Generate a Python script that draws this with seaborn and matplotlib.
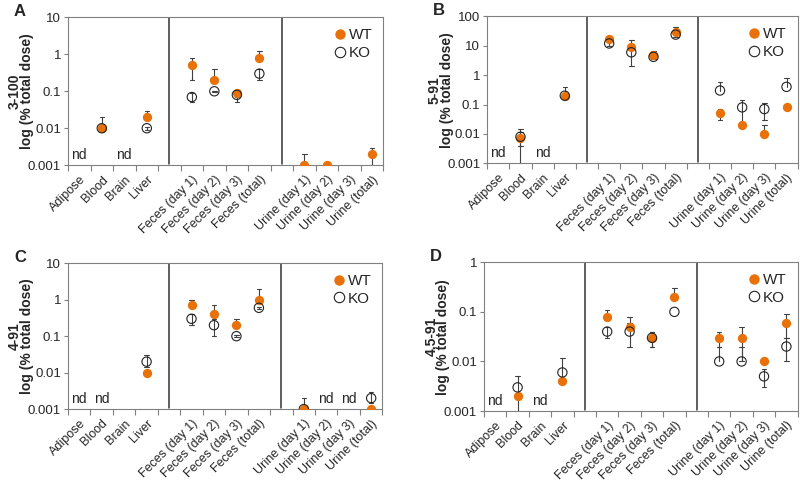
import numpy as np
import pandas as pd
import matplotlib
matplotlib.use("Agg")
import matplotlib.pyplot as plt
from matplotlib.lines import Line2D
from matplotlib import font_manager
import seaborn as sns

nan = np.nan

# category slots (blank slots are the gaps between sample groups)
categories = ["Adipose", "Blood", "Brain", "Liver", " ",
              "Feces (day 1)", "Feces (day 2)", "Feces (day 3)", "Feces (total)", "  ",
              "Urine (day 1)", "Urine (day 2)", "Urine (day 3)", "Urine (total)"]
samples = ["Adipose", "Blood", "Brain", "Liver",
           "Feces (day 1)", "Feces (day 2)", "Feces (day 3)", "Feces (total)",
           "Urine (day 1)", "Urine (day 2)", "Urine (day 3)", "Urine (total)"]

# panel A: 3-100
a_wt = [nan, 0.01, nan, 0.02, 0.5, 0.2, 0.09, 0.8, 0.001, 0.001, nan, 0.002]
a_wt_lo = [nan, nan, nan, 0.02, 0.2, 0.2, 0.07, 0.8, nan, nan, nan, 0.0005]
a_wt_hi = [nan, 0.02, nan, 0.03, 0.8, 0.4, 0.1, 1.2, 0.002, nan, nan, 0.003]
a_ko = [nan, 0.01, nan, 0.01, 0.07, 0.1, 0.08, 0.3, nan, nan, nan, nan]
a_ko_lo = [nan, nan, nan, 0.009, 0.05, 0.095, 0.05, 0.2, nan, nan, nan, nan]
a_ko_hi = [nan, nan, nan, 0.011, 0.09, 0.105, 0.1, 0.4, nan, nan, nan, nan]

# panel B: 5-91
b_wt = [nan, 0.007, nan, 0.2, 17, 9, 5, 30, 0.05, 0.02, 0.01, 0.08]
b_wt_lo = [nan, 0.0001, nan, 0.2, 17, 9, 5, 30, 0.03, nan, nan, nan]
b_wt_hi = [nan, 0.015, nan, 0.4, 21, 16, 6.5, 44, 0.07, nan, 0.02, nan]
b_ko = [nan, 0.008, nan, 0.2, 12, 6, 4.2, 24, 0.3, 0.08, 0.07, 0.4]
b_ko_lo = [nan, 0.004, nan, 0.2, 10, 2, 3.5, 20, 0.3, 0.02, 0.03, 0.4]
b_ko_hi = [nan, 0.012, nan, 0.2, 14, 8, 5, 28, 0.6, 0.14, 0.11, 0.8]

# panel C: 4-91
c_wt = [nan, nan, nan, 0.01, 0.7, 0.4, 0.2, 1.0, 0.001, nan, nan, 0.001]
c_wt_lo = [nan, nan, nan, nan, 0.7, 0.4, 0.2, 1.0, nan, nan, nan, nan]
c_wt_hi = [nan, nan, nan, nan, 1.0, 0.7, 0.3, 2.0, 0.002, nan, nan, nan]
c_ko = [nan, nan, nan, 0.02, 0.3, 0.2, 0.1, 0.6, 0.001, nan, nan, 0.002]
c_ko_lo = [nan, nan, nan, 0.014, 0.2, 0.1, 0.095, 0.55, nan, nan, nan, 0.0015]
c_ko_hi = [nan, nan, nan, 0.03, 0.4, 0.3, 0.105, 0.65, nan, nan, nan, 0.003]

# panel D: 4,5-91
d_wt = [nan, 0.002, nan, 0.004, 0.08, 0.05, 0.03, 0.2, 0.03, 0.03, 0.01, 0.06]
d_wt_lo = [nan, 0.0001, nan, nan, 0.08, 0.05, 0.02, 0.2, 0.02, 0.01, nan, 0.03]
d_wt_hi = [nan, nan, nan, nan, 0.11, 0.08, 0.04, 0.3, 0.04, 0.05, nan, 0.09]
d_ko = [nan, 0.003, nan, 0.006, 0.04, 0.04, 0.03, 0.1, 0.01, 0.01, 0.005, 0.02]
d_ko_lo = [nan, 0.002, nan, 0.004, 0.03, 0.02, 0.02, 0.1, 0.01, 0.01, 0.003, 0.01]
d_ko_hi = [nan, 0.005, nan, 0.012, 0.05, 0.06, 0.04, 0.1, 0.02, 0.02, 0.007, 0.03]

panels = [
    ("A", "3-100", 10, a_wt, a_wt_lo, a_wt_hi, a_ko, a_ko_lo, a_ko_hi, ["Adipose", "Brain"]),
    ("B", "5-91", 100, b_wt, b_wt_lo, b_wt_hi, b_ko, b_ko_lo, b_ko_hi, ["Adipose", "Brain"]),
    ("C", "4-91", 10, c_wt, c_wt_lo, c_wt_hi, c_ko, c_ko_lo, c_ko_hi,
     ["Adipose", "Blood", "Urine (day 2)", "Urine (day 3)"]),
    ("D", "4,5-91", 1, d_wt, d_wt_lo, d_wt_hi, d_ko, d_ko_lo, d_ko_hi, ["Adipose", "Brain"]),
]

# axes rectangles in figure fractions
rects = [[0.085, 0.658, 0.394, 0.306],
         [0.609, 0.662, 0.388, 0.304],
         [0.085, 0.153, 0.393, 0.302],
         [0.605, 0.149, 0.392, 0.308]]

sns.set_style("white")
plt.rcParams['font.family'] = ['Liberation Sans', 'DejaVu Sans']

# narrower face for the y tick numbers if it is there
names = {f.name for f in font_manager.fontManager.ttflist}
narrow = 'Liberation Sans Narrow' if 'Liberation Sans Narrow' in names else 'Liberation Sans'

orange = "#E8710A"
fs = 9

fig = plt.figure(figsize=(8, 4.83), dpi=100)

for (letter, name, ymax, wt, wt_lo, wt_hi, ko, ko_lo, ko_hi, nd), rect in zip(panels, rects):
    ax = fig.add_axes(rect)
    df = pd.DataFrame({"sample": samples * 2,
                       "value": wt + ko,
                       "lo": wt_lo + ko_lo,
                       "hi": wt_hi + ko_hi,
                       "genotype": ["WT"] * 12 + ["KO"] * 12})
    df["x"] = [categories.index(s) for s in df["sample"]]

    # error bars
    for geno in ["WT", "KO"]:
        sub = df[df.genotype == geno]
        for _, r in sub.iterrows():
            if np.isnan(r.value):
                continue
            lo = r.lo if not np.isnan(r.lo) else r.value
            hi = r.hi if not np.isnan(r.hi) else r.value
            if lo < r.value:
                ax.plot([r.x, r.x], [lo, r.value], color="#404040", lw=0.8, zorder=2)
                ax.plot([r.x - 0.1, r.x + 0.1], [lo, lo], color="#404040", lw=0.8, zorder=2)
            if hi > r.value:
                ax.plot([r.x, r.x], [r.value, hi], color="#404040", lw=0.8, zorder=2)
                ax.plot([r.x - 0.1, r.x + 0.1], [hi, hi], color="#404040", lw=0.8, zorder=2)

    sns.scatterplot(data=df[df.genotype == "WT"], x="x", y="value", ax=ax,
                    color=orange, edgecolor=orange, s=45, linewidth=0, zorder=3, legend=False)
    sns.scatterplot(data=df[df.genotype == "KO"], x="x", y="value", ax=ax,
                    facecolor="none", edgecolor="#222222", s=45, linewidth=0.8, zorder=4,
                    legend=False)

    ax.set_yscale("log")
    ax.set_ylim(0.001, ymax)
    ax.set_xlim(-0.5, len(categories) - 0.5)
    ticks = [10.0 ** k for k in range(-3, int(np.log10(ymax)) + 1)]
    ax.set_yticks(ticks)
    ax.set_yticklabels([("%g" % t) for t in ticks], fontsize=9.5, family=narrow)
    ax.yaxis.set_minor_locator(plt.NullLocator())

    ax.set_xticks(range(len(categories)))
    ax.set_xticklabels([c.strip() for c in categories], rotation=45, ha="right",
                       rotation_mode="anchor", fontsize=fs)
    ax.set_xticks(np.arange(-0.5, len(categories)), minor=True)
    ax.tick_params(axis="x", which="major", length=0, pad=6)
    ax.tick_params(axis="x", which="minor", length=4, width=0.8, color="#808080",
                   direction="out", bottom=True)
    ax.tick_params(axis="y", which="major", length=3, width=0.8, color="#808080",
                   direction="out", left=True, pad=2)
    ax.set_xlabel("")
    ax.set_ylabel(name + "\nlog (% total dose)", fontsize=10, fontweight="bold",
                  linespacing=0.85)
    ax.yaxis.set_label_coords(-0.108, 0.5)

    for sp in ax.spines.values():
        sp.set_color("#808080")
        sp.set_linewidth(0.8)

    for xs in [categories.index(" "), categories.index("  ")]:
        ax.axvline(xs, ymin=0.01, ymax=1, color="#333333", lw=1.1)

    for s in nd:
        ax.text(categories.index(s), 0.07, "nd", transform=ax.get_xaxis_transform(),
                ha="center", va="center", fontsize=10)

    handles = [Line2D([], [], marker="o", ls="", color=orange, markersize=7.5, mew=0),
               Line2D([], [], marker="o", ls="", markerfacecolor="none",
                      markeredgecolor="#222222", markersize=7.5, mew=0.8)]
    ax.legend(handles, ["WT", "KO"], loc="upper right", frameon=False, fontsize=11,
              handletextpad=0.0, borderaxespad=0.3, labelspacing=0.25, handlelength=1.2)

    fig.text(rect[0] - 54 / 800, rect[1] + rect[3] + 13 / 483, letter, fontsize=12,
             fontweight="bold", ha="left", va="top")

fig.savefig("out.png", dpi=100)
